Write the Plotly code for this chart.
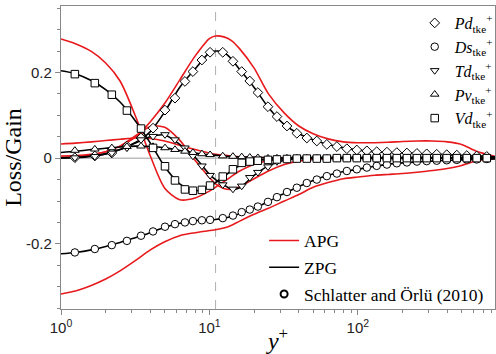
import plotly.graph_objects as go

# ---------------- data ----------------
yp_line = [1, 1.25, 1.6, 2, 2.5, 3.2, 4, 5, 6.3, 8, 10, 11, 12.5, 14, 16, 20, 25, 32,
           40, 50, 63, 80, 100, 130, 160, 200, 250, 320, 400, 500, 630, 840]

zpg_pd = [0.001, 0.002, 0.005, 0.010, 0.020, 0.037, 0.062, 0.108, 0.165, 0.208, 0.246, 0.250,
          0.247, 0.232, 0.207, 0.165, 0.118, 0.078, 0.057, 0.043, 0.032, 0.024, 0.019, 0.015,
          0.013, 0.012, 0.011, 0.009, 0.008, 0.006, 0.005, 0.003]
apg_pd = [0.005, 0.006, 0.009, 0.015, 0.028, 0.050, 0.085, 0.128, 0.182, 0.238, 0.279, 0.285,
          0.283, 0.275, 0.255, 0.210, 0.150, 0.105, 0.075, 0.057, 0.045, 0.038, 0.036, 0.036,
          0.037, 0.039, 0.040, 0.040, 0.038, 0.032, 0.016, 0.004]

zpg_ds = [-0.223, -0.220, -0.214, -0.206, -0.197, -0.185, -0.174, -0.161, -0.152, -0.146, -0.144,
          -0.143, -0.140, -0.136, -0.130, -0.117, -0.101, -0.082, -0.066, -0.052, -0.040, -0.031,
          -0.026, -0.019, -0.014, -0.011, -0.009, -0.007, -0.005, -0.004, -0.003, -0.002]
apg_ds = [-0.317, -0.310, -0.297, -0.282, -0.263, -0.238, -0.214, -0.195, -0.181, -0.174, -0.169,
          -0.167, -0.163, -0.157, -0.147, -0.131, -0.117, -0.100, -0.085, -0.068, -0.057, -0.048,
          -0.044, -0.040, -0.038, -0.036, -0.033, -0.029, -0.024, -0.017, -0.006, -0.001]

zpg_td = [0.000, 0.001, 0.004, 0.010, 0.020, 0.036, 0.050, 0.054, 0.032, 0.002, -0.038, -0.050,
          -0.062, -0.072, -0.069, -0.040, -0.018, -0.005, -0.001, 0.000, 0.000, 0.000, 0.000,
          0.000, 0.000, 0.000, 0.000, 0.000, 0.000, 0.000, 0.000, 0.000]
apg_td = [0.002, 0.004, 0.008, 0.015, 0.028, 0.053, 0.074, 0.072, 0.042, -0.005, -0.045, -0.060,
          -0.071, -0.073, -0.067, -0.048, -0.030, -0.015, -0.007, -0.003, -0.001, 0.000, 0.000,
          0.000, 0.000, 0.000, 0.000, 0.000, 0.000, 0.000, 0.000, 0.000]

zpg_pv = [0.013, 0.016, 0.020, 0.023, 0.026, 0.028, 0.027, 0.024, 0.018, 0.012, 0.008, 0.007,
          0.005, 0.004, 0.003, 0.002, 0.001, 0.000, 0.000, 0.000, 0.000, 0.000, 0.000, 0.000,
          0.000, 0.000, 0.000, 0.000, 0.000, 0.000, 0.000, 0.000]
apg_pv = [0.033, 0.035, 0.038, 0.041, 0.044, 0.047, 0.046, 0.040, 0.030, 0.020, 0.012, 0.009,
          0.007, 0.005, 0.003, 0.002, 0.001, 0.000, 0.000, 0.000, 0.000, 0.000, 0.000, 0.000,
          0.000, 0.000, 0.000, 0.000, 0.000, 0.000, 0.000, 0.000]

zpg_vd = [0.204, 0.197, 0.181, 0.160, 0.131, 0.085, 0.035, -0.020, -0.060, -0.076, -0.068, -0.057,
          -0.043, -0.030, -0.017, -0.006, -0.003, -0.001, 0.000, 0.000, 0.000, 0.000, 0.000,
          0.000, 0.000, 0.000, 0.000, 0.000, 0.000, 0.000, 0.000, 0.000]
apg_vd = [0.278, 0.267, 0.249, 0.222, 0.180, 0.095, 0.005, -0.070, -0.097, -0.093, -0.077, -0.068,
          -0.055, -0.043, -0.030, -0.014, -0.006, -0.002, 0.000, 0.000, 0.000, 0.000, 0.000,
          0.000, 0.000, 0.000, 0.000, 0.000, 0.000, 0.000, 0.000, 0.000]

# Schlatter & Orlu (2010) reference points
yp_ref = [1.24, 1.69, 2.2, 2.78, 3.46, 4.17, 5.02, 5.86, 6.84, 7.74, 8.9, 10.1, 12.3, 14.4,
          16.5, 18.7, 21.2, 24.8, 28.5, 33.3, 38.8, 45.3, 52.9, 61.8, 72.2, 84.3, 98.4, 115,
          134, 157, 183, 214, 250, 291, 340, 397, 464, 542, 632, 739]
ref_pd = [0.001, 0.005, 0.012, 0.028, 0.047, 0.070, 0.112, 0.140, 0.179, 0.202, 0.229, 0.247,
          0.247, 0.226, 0.202, 0.180, 0.153, 0.120, 0.097, 0.075, 0.058, 0.047, 0.040, 0.032,
          0.027, 0.022, 0.019, 0.017, 0.015, 0.014, 0.013, 0.012, 0.011, 0.010, 0.009, 0.008,
          0.007, 0.006, 0.005, 0.004]
ref_ds = [-0.220, -0.212, -0.203, -0.193, -0.181, -0.171, -0.160, -0.154, -0.150, -0.147, -0.145,
          -0.144, -0.140, -0.134, -0.126, -0.120, -0.113, -0.102, -0.091, -0.079, -0.069, -0.058,
          -0.050, -0.042, -0.036, -0.030, -0.026, -0.022, -0.018, -0.015, -0.012, -0.010, -0.008,
          -0.007, -0.006, -0.005, -0.004, -0.003, -0.003, -0.002]
ref_td = [0.001, 0.004, 0.012, 0.024, 0.043, 0.051, 0.055, 0.043, 0.024, 0.005, -0.018, -0.040,
          -0.062, -0.072, -0.065, -0.045, -0.033, -0.020, -0.008, -0.002, 0.000, 0.000, 0.000,
          0.000, 0.000, 0.000, 0.000, 0.000, 0.000, 0.000, 0.000, 0.000, 0.000, 0.000, 0.000,
          0.000, 0.000, 0.000, 0.000, 0.000]
ref_pv = [0.018, 0.021, 0.024, 0.027, 0.028, 0.027, 0.024, 0.020, 0.016, 0.013, 0.010, 0.008,
          0.005, 0.004, 0.003, 0.002, 0.001, 0.000, 0.000, 0.000, 0.000, 0.000, 0.000, 0.000,
          0.000, 0.000, 0.000, 0.000, 0.000, 0.000, 0.000, 0.000, 0.000, 0.000, 0.000, 0.000,
          0.000, 0.000, 0.000, 0.000]
ref_vd = [0.196, 0.175, 0.148, 0.111, 0.069, 0.024, -0.019, -0.052, -0.073, -0.076, -0.074,
          -0.064, -0.043, -0.026, -0.011, -0.008, -0.006, -0.004, -0.003, -0.002, -0.001, -0.001,
          -0.001, -0.001, 0.000, 0.000, 0.000, 0.000, 0.000, 0.000, 0.000, 0.000, 0.000, 0.000,
          0.000, 0.000, 0.000, 0.000, 0.000, 0.000]

term_labels = ["Pd", "Ds", "Td", "Pv", "Vd"]
term_symbols = ["diamond", "circle", "triangle-down", "triangle-up", "square"]
apg_series = [apg_pd, apg_ds, apg_td, apg_pv, apg_vd]
zpg_series = [zpg_pd, zpg_ds, zpg_td, zpg_pv, zpg_vd]
ref_series = [ref_pd, ref_ds, ref_td, ref_pv, ref_vd]

x_tick_vals = [1, 10, 100]
x_tick_text = ["10<sup>0</sup>", "10<sup>1</sup>", "10<sup>2</sup>"]
x_minor_vals = [2, 3, 4, 5, 6, 7, 8, 9, 20, 30, 40, 50, 60, 70, 80, 90, 200, 300, 400, 500,
                600, 700, 800]
y_tick_vals = [-0.2, 0, 0.2]
y_tick_text = ["-0.2", "0", "0.2"]
y_minor_vals = [-0.35, -0.3, -0.25, -0.15, -0.1, -0.05, 0.05, 0.1, 0.15, 0.25, 0.3, 0.35]
ref_yplus = 11

SERIF = "Liberation Serif, Times New Roman, serif"
SANS = "Liberation Sans, Arial, sans-serif"
RED = "#e8191c"

fig = go.Figure()

# reference lines
fig.add_shape(type="line", xref="paper", yref="y", x0=0, x1=1, y0=0, y1=0,
              line=dict(color="#bdbdbd", width=1.5), layer="below")
fig.add_shape(type="line", xref="x", yref="paper", x0=ref_yplus, x1=ref_yplus, y0=0, y1=1,
              line=dict(color="#b0b0b0", width=1, dash="dash"), layer="below")

for i, ys in enumerate(apg_series):
    fig.add_trace(go.Scatter(x=yp_line, y=ys, mode="lines",
                             line=dict(color=RED, width=1.6, shape="spline", smoothing=0.8),
                             name="APG", legend="legend2", legendgroup="apg",
                             showlegend=(i == 0), hoverinfo="skip"))
for i, ys in enumerate(zpg_series):
    fig.add_trace(go.Scatter(x=yp_line, y=ys, mode="lines",
                             line=dict(color="black", width=1.6, shape="spline", smoothing=0.8),
                             name="ZPG", legend="legend2", legendgroup="zpg",
                             showlegend=(i == 0), hoverinfo="skip"))
for lab, sym, ys in zip(term_labels, term_symbols, ref_series):
    fig.add_trace(go.Scatter(x=yp_ref, y=ys, mode="markers",
                             marker=dict(symbol=sym, size=7.5, color="white",
                                         line=dict(color="black", width=1)),
                             name="<i>%s</i><sub>tke</sub><sup>+</sup>" % lab, legend="legend"))
# legend entry for the reference data set
fig.add_trace(go.Scatter(x=[None], y=[None], mode="markers",
                         marker=dict(symbol="circle", size=7, color="white",
                                     line=dict(color="black", width=2)),
                         name="Schlatter and Örlü (2010)", legend="legend2", legendgroup="ref"))

fig.add_annotation(x=ref_yplus, xref="x", y=-0.32, yref="y", text="<i>y</i><sup>+</sup> = 11",
                   showarrow=False, font=dict(family=SERIF, size=14, color="#333"),
                   xanchor="center")

fig.update_layout(
    width=496, height=354,
    margin=dict(l=61, r=1, t=6, b=45, autoexpand=False),
    plot_bgcolor="white", paper_bgcolor="white",
    font=dict(family=SANS, size=15, color="#222"),
    legend=dict(x=0.815, y=1.0, xanchor="left", yanchor="top", bgcolor="rgba(0,0,0,0)",
                font=dict(family=SERIF, size=16, color="black"), itemwidth=30),
    legend2=dict(x=0.468, y=0.285, xanchor="left", yanchor="top", bgcolor="rgba(255,255,255,0)",
                 font=dict(family=SERIF, size=17.5, color="black"), itemwidth=30,
                 tracegroupgap=1),
    xaxis=dict(type="log", range=[0, 2.924], showline=True, mirror=True, linecolor="#888",
               linewidth=1.2, ticks="outside", ticklen=5, tickcolor="#888", automargin=False,
               tickmode="array", tickvals=x_tick_vals, ticktext=x_tick_text,
               minor=dict(tickmode="array", tickvals=x_minor_vals, ticks="outside", ticklen=3,
                          tickcolor="#888"),
               showgrid=False, zeroline=False,
               title=dict(text="<i>y</i><sup>+</sup>", font=dict(family=SERIF, size=24, color="black"),
                          standoff=0)),
    yaxis=dict(range=[-0.352, 0.355], showline=True, mirror=True, linecolor="#888",
               linewidth=1.2, ticks="outside", ticklen=5, tickcolor="#888", automargin=False,
               tickmode="array", tickvals=y_tick_vals, ticktext=y_tick_text,
               minor=dict(tickmode="array", tickvals=y_minor_vals, ticks="outside", ticklen=3,
                          tickcolor="#888"),
               showgrid=False, zeroline=False,
               title=dict(text="Loss/Gain", font=dict(family=SERIF, size=24, color="black"),
                          standoff=4)),
)

fig.write_html("out.html", config={"displayModeBar": False},
               post_script="document.body.style.margin='0px';document.body.style.overflow='hidden';")
